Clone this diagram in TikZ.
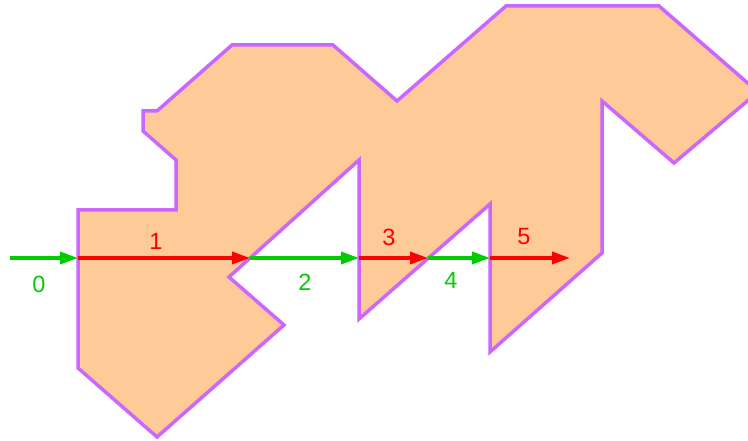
\documentclass[tikz,border=0pt]{standalone}
\usepackage{fontspec}
\setmainfont{Liberation Sans}
\usetikzlibrary{arrows.meta}
\definecolor{shapefill}{RGB}{254,202,152}
\definecolor{shapeedge}{RGB}{204,102,255}
\definecolor{ggreen}{RGB}{0,204,0}
\definecolor{rred}{RGB}{255,0,0}
\tikzset{
  shapestyle/.style={fill=shapefill, draw=shapeedge, line width=3.5pt, line join=miter},
  garrow/.style={draw=ggreen, line width=3.5pt, -{Triangle[length=18pt,width=12pt]}},
  rarrow/.style={draw=rred, line width=3.5pt, -{Triangle[length=18pt,width=12pt]}},
  glabel/.style={text=ggreen, inner sep=0pt, font=\fontsize{23.5}{26}\selectfont},
  rlabel/.style={text=rred, inner sep=0pt, font=\fontsize{23.5}{26}\selectfont},
}
\begin{document}
\begin{tikzpicture}[x=1pt,y=-1pt]
\useasboundingbox (0,0) rectangle (748,441);
\begin{scope}
\clip (0,0) rectangle (748,441);
\draw[shapestyle] (78,210) -- (176,210) -- (176,160) -- (143,131) -- (143,111) -- (157,111)
  -- (232,45) -- (333,45) -- (397,101) -- (506,6) -- (659,6) -- (758,92) -- (674,163)
  -- (602,101) -- (602,253) -- (490,352) -- (490,204) -- (359,319) -- (359,160)
  -- (229,277) -- (284,325) -- (157,437) -- (78,368) -- cycle;
\end{scope}
\coordinate (p0) at (10,258);
\coordinate (p1) at (78,258);
\coordinate (p2) at (250,258);
\coordinate (p3) at (359,258);
\coordinate (p4) at (428,258);
\coordinate (p5) at (490,258);
\coordinate (p6) at (570,258);
\draw[garrow] (p0) -- (p1);
\draw[rarrow] (p1) -- (p2);
\draw[garrow] (p2) -- (p3);
\draw[rarrow] (p3) -- (p4);
\draw[garrow] (p4) -- (p5);
\draw[rarrow] (p5) -- (p6);
\node[glabel] (l0) at (39,284) {0};
\node[rlabel] (l1) at (156,241) {1};
\node[glabel] (l2) at (305,282) {2};
\node[rlabel] (l3) at (389,237) {3};
\node[glabel] (l4) at (451,280) {4};
\node[rlabel] (l5) at (524,237) {5};
\end{tikzpicture}
\end{document}
